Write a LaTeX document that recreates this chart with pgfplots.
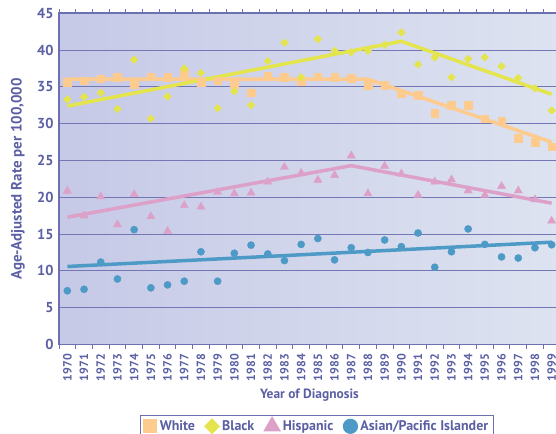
\documentclass[border=0pt]{standalone}
\usepackage{fontspec}
\setmainfont{PT Sans}
\usepackage{pgfplots}
\pgfplotsset{compat=1.18}

\definecolor{txt}{HTML}{5B5FA3}
\definecolor{axc}{HTML}{6B70B0}
\definecolor{gridc}{HTML}{7378B4}
\definecolor{bgl}{HTML}{C6C9E7}
\definecolor{bgr}{HTML}{DDE3F0}
\definecolor{cwhite}{HTML}{FDCB8E}
\definecolor{cblack}{HTML}{E4E44C}
\definecolor{chisp}{HTML}{DDA0C9}
\definecolor{casian}{HTML}{4D9AC6}

\begin{document}
\begin{tikzpicture}
\begin{axis}[
  at={(59bp,89.5bp)}, anchor=south west,
  scale only axis, width=501bp, height=331.2bp,
  xmin=1969.5, xmax=1999.5, ymin=0, ymax=45,
  xtick={1970,...,1999},
  minor xtick={1969.5,1970.5,...,1999.5},
  ytick={0,5,...,45},
  major tick length=0pt, minor tick length=4bp,
  tick align=outside,
  minor tick style={draw=axc, line width=1bp},
  ymajorgrids,
  major grid style={draw=gridc, line width=1bp},
  axis line style={draw=axc, line width=1.6bp},
  axis background/.style={shade, left color=bgl, right color=bgr},
  /pgf/number format/assume math mode=true,
  /pgf/number format/1000 sep={},
  yticklabel={\bfseries\pgfmathprintnumber{\tick}},
  xticklabel={\bfseries\pgfmathprintnumber{\tick}},
  yticklabel style={font=\bfseries\fontsize{14.5}{14.5}\selectfont, text=txt, xshift=-2bp},
  xticklabel style={font=\bfseries\fontsize{12}{12}\selectfont, text=txt, rotate=90, anchor=east},
  xticklabel shift=6bp,
  xlabel={Year of Diagnosis},
  ylabel={Age-Adjusted Rate per 100,000},
  every axis x label/.style={at={(axis description cs:0.5,-0.152)}, anchor=center,
    font=\bfseries\fontsize{13.5}{13.5}\selectfont, text=txt},
  every axis y label/.style={at={(axis description cs:-0.082,0.5)}, rotate=90, anchor=center,
    font=\bfseries\fontsize{15}{15}\selectfont, text=txt},
  legend style={at={(axis description cs:0.515,-0.212)}, anchor=north,
    legend columns=4, draw=axc, line width=1.2bp, fill=white,
    font=\bfseries\fontsize{14}{14}\selectfont, text=txt,
    /tikz/every odd column/.append style={column sep=1bp},
    /tikz/every even column/.append style={column sep=8bp}},
  clip=false,
]
% trend lines
\addplot[forget plot, cwhite, line width=3.5bp] coordinates {(1970,36.05) (1988,36.05) (1999,27.5)};
\addplot[forget plot, cblack, line width=3.5bp] coordinates {(1970,32.4) (1990,41.2) (1999,34.0)};
\addplot[forget plot, chisp, line width=3.5bp] coordinates {(1970,17.3) (1987,24.3) (1999,19.2)};
\addplot[forget plot, casian, line width=3.5bp] coordinates {(1970,10.6) (1999,13.9)};

% White
\addplot[only marks, color=cwhite, mark=square*, mark size=3.8bp,
  legend image post style={mark size=6.5bp}] coordinates {
(1970,35.6) (1971,35.85) (1972,36.1) (1973,36.3) (1974,35.3) (1975,36.4) (1976,36.35) (1977,36.9)
(1978,35.6) (1979,35.85) (1980,35.4) (1981,34.2) (1982,36.5) (1983,36.3) (1984,35.8) (1985,36.4)
(1986,36.35) (1987,36.2) (1988,35.2) (1989,35.2) (1990,34.1) (1991,33.9) (1992,31.4) (1993,32.5)
(1994,32.5) (1995,30.7) (1996,30.4) (1997,28.0) (1998,27.5) (1999,26.9)};
\addlegendentry{White}

% Black
\addplot[only marks, color=cblack, mark=square*, mark size=2.7bp, mark options={rotate=45},
  legend image post style={mark size=5bp}] coordinates {
(1970,33.3) (1971,33.65) (1972,34.2) (1973,32.0) (1974,38.7) (1975,30.7) (1976,33.7) (1977,37.5)
(1978,36.9) (1979,32.1) (1980,34.4) (1981,32.5) (1982,38.5) (1983,41.0) (1984,36.3) (1985,41.5)
(1986,39.9) (1987,39.7) (1988,39.9) (1989,40.7) (1990,42.4) (1991,38.05) (1992,39.0) (1993,36.3)
(1994,38.8) (1995,39.0) (1996,37.8) (1997,36.2) (1998,34.8) (1999,31.8)};
\addlegendentry{Black}

% Hispanic
\addplot[only marks, color=chisp, mark=triangle*, mark size=4.7bp,
  legend image post style={mark size=9bp}] coordinates {
(1970,20.86) (1971,17.5) (1972,20.1) (1973,16.3) (1974,20.4) (1975,17.4) (1976,15.4) (1977,18.9)
(1978,18.7) (1979,20.7) (1980,20.5) (1981,20.6) (1982,22.1) (1983,24.1) (1984,23.3) (1985,22.35)
(1986,23.0) (1987,25.65) (1988,20.5) (1989,24.25) (1990,23.2) (1991,20.3) (1992,22.1) (1993,22.4)
(1994,20.9) (1995,20.3) (1996,21.5) (1997,20.9) (1998,19.7) (1999,16.8)};
\addlegendentry{Hispanic}

% Asian/Pacific Islander
\addplot[only marks, color=casian, mark=*, mark size=3.6bp,
  legend image post style={mark size=7bp}] coordinates {
(1970,7.3) (1971,7.5) (1972,11.2) (1973,8.9) (1974,15.6) (1975,7.7) (1976,8.1) (1977,8.6)
(1978,12.6) (1979,8.6) (1980,12.4) (1981,13.5) (1982,12.3) (1983,11.4) (1984,13.6) (1985,14.4)
(1986,11.5) (1987,13.15) (1988,12.5) (1989,14.2) (1990,13.3) (1991,15.15) (1992,10.5) (1993,12.6)
(1994,15.7) (1995,13.6) (1996,11.9) (1997,11.75) (1998,13.15) (1999,13.55)};
\addlegendentry{Asian/Pacific Islander}
\end{axis}
\pgfresetboundingbox
\useasboundingbox (0,0) rectangle (556bp,434bp);
\end{tikzpicture}
\end{document}
